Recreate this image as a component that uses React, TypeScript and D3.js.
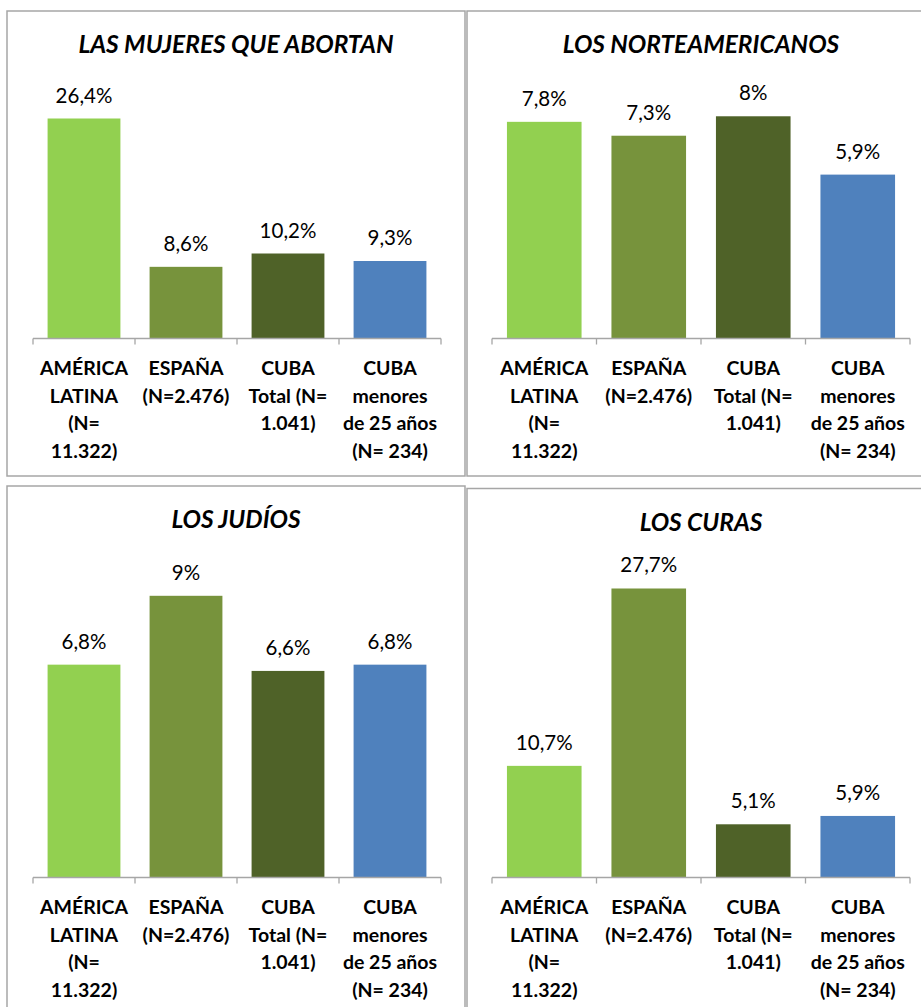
import * as d3 from "d3"

// categories (wrapped as in the original chart)
const categoryLines: string[][] = [
  ["AMÉRICA", "LATINA", "(N=", "11.322)"],
  ["ESPAÑA", "(N=2.476)"],
  ["CUBA", "Total (N=", "1.041)"],
  ["CUBA", "menores", "de 25 años", "(N= 234)"],
]
const categoryKeys = ["america", "espana", "cubaTotal", "cubaJovenes"]
const barColors = ["#92d050", "#77933c", "#4f6228", "#4f81bd"]

const titles = ["LAS MUJERES QUE ABORTAN", "LOS NORTEAMERICANOS", "LOS JUDÍOS", "LOS CURAS"]

const mujeresAbortan = [26.4, 8.6, 10.2, 9.3]
const norteamericanos = [7.8, 7.3, 8, 5.9]
const judios = [6.8, 9, 6.6, 6.8]
const curas = [10.7, 27.7, 5.1, 5.9]

const axisMax = [30, 9, 10, 30]

const seriesValues = [mujeresAbortan, norteamericanos, judios, curas]

const fmt = (v: number) => `${String(v).replace(".", ",")}%`

interface PanelBox {
  x: number
  y: number
  w: number
  h: number
  axisL: number
  axisR: number
  axisY: number
  plotH: number
}

const boxes: PanelBox[] = [
  { x: 7, y: 11, w: 458, h: 465, axisL: 33, axisR: 441, axisY: 338.5, plotH: 250 },
  { x: 467, y: 11, w: 468, h: 465, axisL: 492, axisR: 910, axisY: 338.5, plotH: 250 },
  { x: 7, y: 486, w: 458, h: 540, axisL: 33, axisR: 441, axisY: 877.5, plotH: 313 },
  { x: 467, y: 488.5, w: 468, h: 540, axisL: 492, axisR: 910, axisY: 877.5, plotH: 313 },
]

const FONT = "Lato, 'Open Sans', sans-serif"

function Panel({ idx }: { idx: number }) {
  const b = boxes[idx]
  const values = seriesValues[idx]
  const x = d3
    .scaleBand<string>()
    .domain(categoryKeys)
    .range([b.axisL, b.axisR])
    .paddingInner(0.286)
    .paddingOuter(0.143)
  const y = d3
    .scaleLinear()
    .domain([0, axisMax[idx]])
    .range([b.axisY, b.axisY - b.plotH])
  const step = x.step()
  const x0 = (x(categoryKeys[0]) ?? 0) - (step - x.bandwidth()) / 2

  return (
    <g>
      <rect x={b.x} y={b.y} width={b.w} height={b.h} fill="#fff" stroke="#a6a6a6" strokeWidth={1.5} />
      <text
        x={b.x + b.w / 2}
        y={b.y + 42}
        textAnchor="middle"
        fontFamily={FONT}
        fontSize={24.5}
        fontWeight="bold"
        fontStyle="italic"
        fill="#000"
      >
        {titles[idx]}
      </text>
      {values.map((v, i) => {
        const k = categoryKeys[i]
        const bx = x(k) ?? 0
        return (
          <g key={k}>
            <rect x={bx} y={y(v)} width={x.bandwidth()} height={b.axisY - y(v)} fill={barColors[i]} />
            <text
              x={bx + x.bandwidth() / 2}
              y={y(v) - 16}
              textAnchor="middle"
              fontFamily={FONT}
              fontSize={20.5}
              fill="#000"
            >
              {fmt(v)}
            </text>
          </g>
        )
      })}
      <line x1={b.axisL} x2={b.axisR} y1={b.axisY} y2={b.axisY} stroke="#a6a6a6" strokeWidth={1.3} />
      {d3.range(categoryKeys.length + 1).map((i) => (
        <line
          key={i}
          x1={x0 + i * step}
          x2={x0 + i * step}
          y1={b.axisY}
          y2={b.axisY + 6}
          stroke="#a6a6a6"
          strokeWidth={1.3}
        />
      ))}
      {categoryLines.map((lines, i) => (
        <text
          key={i}
          textAnchor="middle"
          fontFamily={FONT}
          fontSize={19.5}
          fontWeight="bold"
          fill="#000"
        >
          {lines.map((ln, j) => (
            <tspan key={j} x={(x(categoryKeys[i]) ?? 0) + x.bandwidth() / 2} y={b.axisY + 36.5 + j * 27.5}>
              {ln}
            </tspan>
          ))}
        </text>
      ))}
    </g>
  )
}

export default function App() {
  return (
    <svg
      width={921}
      height={1007}
      style={{ position: "absolute", left: 0, top: 0, background: "#fff" }}
    >
      <rect x={0} y={0} width={921} height={1007} fill="#fff" />
      {boxes.map((_, i) => (
        <Panel key={i} idx={i} />
      ))}
    </svg>
  )
}
